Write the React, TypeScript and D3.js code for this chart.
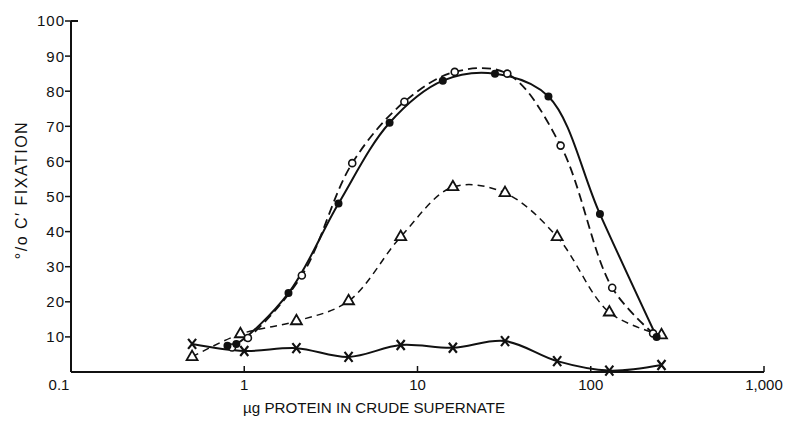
import React, { useEffect, useRef } from 'react'
import * as d3 from 'd3'

// values (µg protein vs % C' fixation)
const filledDose = [0.8, 0.9, 1.8, 3.5, 6.9, 14, 28, 57, 113, 240]
const filledFix = [7.5, 8, 22.5, 48, 71, 83, 85, 78.5, 45, 10]

const openDose = [0.85, 1.05, 2.15, 4.2, 8.4, 16.4, 33, 67, 133, 229]
const openFix = [7, 9.7, 27.5, 59.5, 77, 85.5, 85, 64.5, 24, 11]

const triDose = [0.5, 0.95, 2, 4, 8, 16, 32, 64, 128, 256]
const triFix = [4.3, 10.8, 14.5, 20.2, 38.5, 52.7, 51, 38.5, 17, 10.5]

const crossDose = [0.5, 1, 2, 4, 8, 16, 32, 64, 128, 256]
const crossFix = [8, 6, 6.8, 4.3, 7.7, 6.9, 8.8, 3.1, 0.4, 2]

const xTicks = [0.1, 1, 10, 100, 1000]
const xTickLabels = ['0.1', '1', '10', '100', '1,000']
const yTicks = [10, 20, 30, 40, 50, 60, 70, 80, 90, 100]

const W = 787
const H = 425
const FONT = 'Liberation Sans, Arial, sans-serif'

export default function App () {
  const ref = useRef<SVGSVGElement>(null)

  useEffect(() => {
    const svg = d3.select(ref.current)
    svg.selectAll('*').remove()

    const x = d3.scaleLog().domain([0.1, 1000]).range([71, 764])
    const y = d3.scaleLinear().domain([0, 100]).range([372, 21])

    const g = svg.append('g')

    // axes
    g.append('line').attr('x1', x(0.1)).attr('x2', x(1000))
      .attr('y1', y(0)).attr('y2', y(0))
      .attr('stroke', '#111').attr('stroke-width', 2)
    g.append('line').attr('x1', x(0.1)).attr('x2', x(0.1))
      .attr('y1', y(0)).attr('y2', y(100))
      .attr('stroke', '#111').attr('stroke-width', 2)
    g.append('line').attr('x1', x(0.1)).attr('x2', x(0.1) + 7)
      .attr('y1', y(100)).attr('y2', y(100))
      .attr('stroke', '#111').attr('stroke-width', 2)

    yTicks.forEach(t => {
      g.append('line').attr('x1', x(0.1) - 6).attr('x2', x(0.1))
        .attr('y1', y(t)).attr('y2', y(t))
        .attr('stroke', '#111').attr('stroke-width', 1.5)
      g.append('text').attr('x', x(0.1) - 6).attr('y', y(t))
        .attr('dy', '0.36em').attr('text-anchor', 'end')
        .attr('font-family', FONT).attr('font-size', 15)
        .attr('letter-spacing', 1).attr('fill', '#111')
        .text(String(t))
    })

    xTicks.forEach((t, i) => {
      if (i > 0) {
        g.append('line').attr('x1', x(t)).attr('x2', x(t))
          .attr('y1', y(0)).attr('y2', y(0) - 6)
          .attr('stroke', '#111').attr('stroke-width', 1.5)
      }
      g.append('text').attr('x', x(t) + (i === 0 ? -12 : 0)).attr('y', 390)
        .attr('text-anchor', 'middle')
        .attr('font-family', FONT).attr('font-size', 15).attr('fill', '#111')
        .text(xTickLabels[i])
    })

    g.append('text').attr('x', 374).attr('y', 413)
      .attr('text-anchor', 'middle')
      .attr('font-family', FONT).attr('font-size', 15).attr('fill', '#111')
      .attr('textLength', 262).attr('lengthAdjust', 'spacingAndGlyphs')
      .text('\u00b5g PROTEIN IN CRUDE SUPERNATE')

    g.append('text')
      .attr('transform', 'translate(27,190) rotate(-90)')
      .attr('text-anchor', 'middle')
      .attr('font-family', FONT).attr('font-size', 16).attr('fill', '#111')
      .attr('letter-spacing', 1.5)
      .text('\u00b0/o C\u2032 FIXATION')

    const line = d3.line<[number, number]>()
      .x(d => x(d[0]))
      .y(d => y(d[1]))
      .curve(d3.curveCatmullRom.alpha(0.5))

    const zip = (a: number[], b: number[]) => a.map((v, i) => [v, b[i]] as [number, number])

    const filled = zip(filledDose, filledFix)
    const open = zip(openDose, openFix)
    const tri = zip(triDose, triFix)
    const cross = zip(crossDose, crossFix)

    g.append('path').datum(tri).attr('d', line)
      .attr('fill', 'none').attr('stroke', '#111').attr('stroke-width', 1.5)
      .attr('stroke-dasharray', '7,5')
    g.append('path').datum(open).attr('d', line)
      .attr('fill', 'none').attr('stroke', '#111').attr('stroke-width', 1.8)
      .attr('stroke-dasharray', '9,5')
    g.append('path').datum(filled).attr('d', line)
      .attr('fill', 'none').attr('stroke', '#111').attr('stroke-width', 2)
    g.append('path').datum(cross).attr('d', line)
      .attr('fill', 'none').attr('stroke', '#111').attr('stroke-width', 2)

    g.selectAll('.tri').data(tri).enter().append('path')
      .attr('class', 'tri')
      .attr('transform', d => `translate(${x(d[0])},${y(d[1])})`)
      .attr('d', d3.symbol(d3.symbolTriangle, 52)())
      .attr('fill', '#fff').attr('stroke', '#111').attr('stroke-width', 1.8)

    g.selectAll('.open').data(open).enter().append('circle')
      .attr('class', 'open')
      .attr('cx', d => x(d[0])).attr('cy', d => y(d[1])).attr('r', 3.5)
      .attr('fill', '#fff').attr('stroke', '#111').attr('stroke-width', 1.6)

    g.selectAll('.filled').data(filled).enter().append('circle')
      .attr('class', 'filled')
      .attr('cx', d => x(d[0])).attr('cy', d => y(d[1])).attr('r', 4)
      .attr('fill', '#111')

    g.selectAll('.cross').data(cross).enter().append('path')
      .attr('class', 'cross')
      .attr('transform', d => `translate(${x(d[0])},${y(d[1])})`)
      .attr('d', 'M-4,-5L4,5M-4,5L4,-5')
      .attr('stroke', '#111').attr('stroke-width', 2.2)
  }, [])

  return (
    <svg ref={ref} width={W} height={H}
      style={{ position: 'absolute', left: 0, top: 0, background: '#fff' }} />
  )
}
